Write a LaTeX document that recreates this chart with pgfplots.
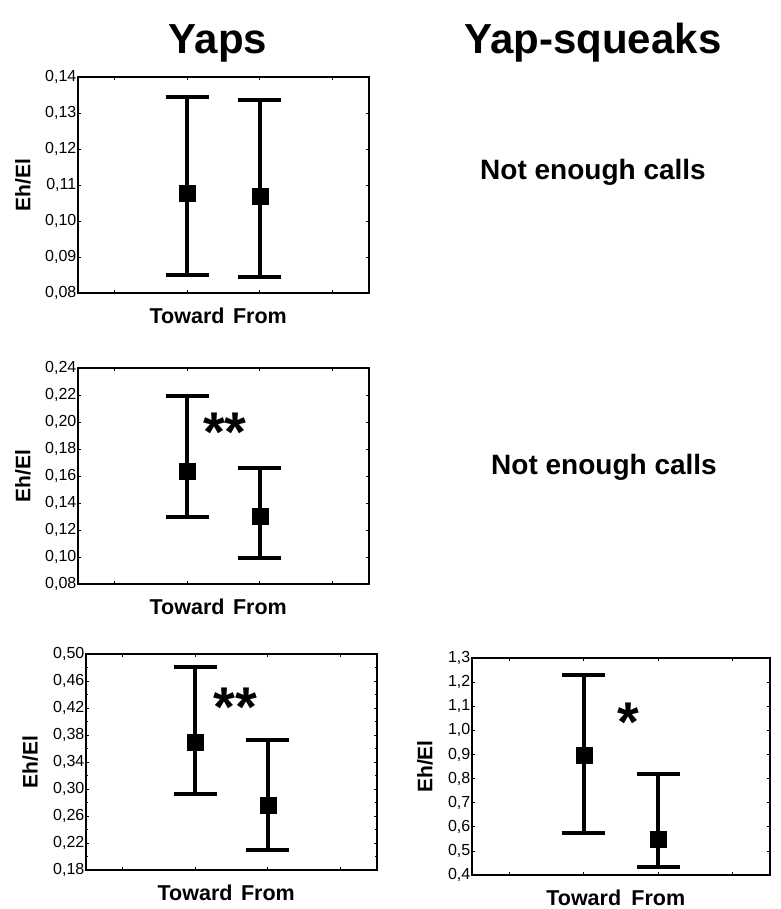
\documentclass[border=0pt]{standalone}
\usepackage{fontspec}
\setmainfont{Liberation Sans}
\usepackage{pgfplots}
\pgfplotsset{compat=1.18}

\pgfplotsset{
  callplot/.style={
    scale only axis,
    width=291pt, height=216pt,
    xmin=-0.5, xmax=3.5,
    xtick={0,1,2,3}, xticklabels={,Toward,From,},
    tick align=inside,
    major tick length=3pt,
    minor tick length=2pt,
    axis line style={line width=1.2pt},
    every tick/.style={black, line width=0.8pt},
    /pgf/number format/assume math mode=true,
    /pgf/number format/use comma,
    /pgf/number format/fixed,
    /pgf/number format/fixed zerofill,
    yticklabel style={font=\fontsize{16}{17}\selectfont, inner sep=1.5pt},
    xticklabel style={font=\fontsize{21.5}{24}\selectfont\bfseries, anchor=base, yshift=-30pt},
    ylabel={Eh/El},
    ylabel style={font=\fontsize{21}{24}\selectfont\bfseries, anchor=center},
  },
  whisker/.style={
    black, only marks, mark=square*, mark size=8pt,
    error bars/.cd, y dir=both, y explicit,
    error bar style={line width=4pt},
    error mark=|,
    error mark options={line width=4pt, mark size=21.5pt},
  },
}
\tikzset{sigstar/.style={font=\fontsize{56}{58}\selectfont\bfseries, anchor=base}}

\begin{document}
\begin{tikzpicture}
\path[use as bounding box] (0,0) rectangle (780pt,-909pt);

\node[font=\fontsize{42}{44}\selectfont\bfseries, anchor=base] at (218pt,-54pt) {Yaps};
\node[font=\fontsize{42}{44}\selectfont\bfseries, anchor=base] at (593pt,-54pt) {Yap-squeaks};
\node[font=\fontsize{28}{30}\selectfont\bfseries] at (593pt,-172pt) {Not enough calls};
\node[font=\fontsize{28}{30}\selectfont\bfseries] at (604pt,-467pt) {Not enough calls};

% Yaps, row 1
\begin{axis}[callplot, at={(78pt,-293pt)}, anchor=south west,
  ymin=0.08, ymax=0.14, ytick={0.08,0.09,0.10,0.11,0.12,0.13,0.14},
  /pgf/number format/precision=2,
  ylabel style={at={(axis description cs:-0.189,0.5)}}]
\addplot[whisker] table[x=x, y=y, y error plus=ep, y error minus=em] {
x y      ep     em
1 0.1076 0.0269 0.0225
2 0.1070 0.0267 0.0226
};
\end{axis}

% Yaps, row 2
\begin{axis}[callplot, at={(78pt,-584pt)}, anchor=south west,
  ymin=0.08, ymax=0.24, ytick={0.08,0.10,0.12,0.14,0.16,0.18,0.20,0.22,0.24},
  /pgf/number format/precision=2,
  ylabel style={at={(axis description cs:-0.189,0.5)}}]
\addplot[whisker] table[x=x, y=y, y error plus=ep, y error minus=em] {
x y      ep     em
1 0.1632 0.0561 0.0337
2 0.1304 0.0357 0.0314
};
\node[sigstar] at (axis cs:1.52,0.178) {**};
\end{axis}

% Yaps, row 3
\begin{axis}[callplot, at={(86pt,-870pt)}, anchor=south west,
  ymin=0.18, ymax=0.50, ytick={0.18,0.22,0.26,0.30,0.34,0.38,0.42,0.46,0.50},
  minor y tick num=1,
  /pgf/number format/precision=2,
  ylabel style={at={(axis description cs:-0.192,0.5)}}]
\addplot[whisker] table[x=x, y=y, y error plus=ep, y error minus=em] {
x y      ep     em
1 0.3690 0.1117 0.0762
2 0.2764 0.0965 0.0667
};
\node[sigstar] at (axis cs:1.55,0.392) {**};
\end{axis}

% Yap-squeaks, row 3
\begin{axis}[callplot, width=298pt, height=217pt, at={(472pt,-875pt)}, anchor=south west,
  ymin=0.4, ymax=1.3, ytick={0.4,0.5,0.6,0.7,0.8,0.9,1.0,1.1,1.2,1.3},
  /pgf/number format/precision=1,
  ylabel style={at={(axis description cs:-0.158,0.5)}}]
\addplot[whisker] table[x=x, y=y, y error plus=ep, y error minus=em] {
x y     ep    em
1 0.898 0.330 0.325
2 0.549 0.270 0.115
};
\node[sigstar] at (axis cs:1.594,0.955) {*};
\end{axis}
\end{tikzpicture}
\end{document}
